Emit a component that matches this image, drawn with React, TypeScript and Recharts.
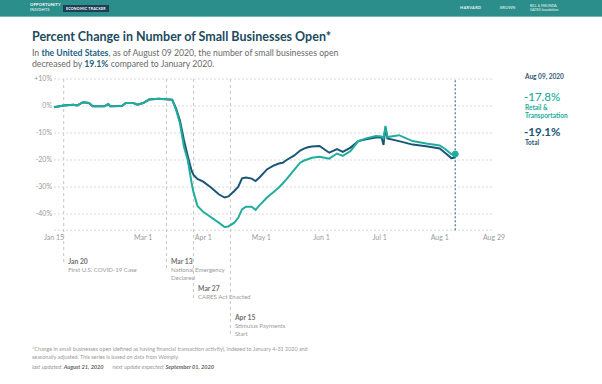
import React from "react";
import {
  ComposedChart,
  Line,
  XAxis,
  YAxis,
  CartesianGrid,
  ReferenceLine,
  ReferenceDot,
} from "recharts";

// ---------- data ----------
const dates = [
  "2020-01-15", "2020-01-20", "2020-01-25", "2020-01-27", "2020-01-30",
  "2020-02-02", "2020-02-04", "2020-02-08", "2020-02-10", "2020-02-12",
  "2020-02-13", "2020-02-19", "2020-02-21", "2020-02-25", "2020-02-27",
  "2020-03-01", "2020-03-04", "2020-03-09", "2020-03-14", "2020-03-16",
  "2020-03-18", "2020-03-20", "2020-03-22", "2020-03-24", "2020-03-26",
  "2020-03-27", "2020-03-29", "2020-04-01", "2020-04-05", "2020-04-09",
  "2020-04-12", "2020-04-14", "2020-04-17", "2020-04-19", "2020-04-21",
  "2020-04-23", "2020-04-26", "2020-04-28", "2020-04-30", "2020-05-04",
  "2020-05-07", "2020-05-10", "2020-05-12", "2020-05-14", "2020-05-18",
  "2020-05-21", "2020-05-23", "2020-05-25", "2020-05-27", "2020-05-31",
  "2020-06-05", "2020-06-09", "2020-06-12", "2020-06-16", "2020-06-20",
  "2020-06-24", "2020-06-29", "2020-07-02", "2020-07-03", "2020-07-04",
  "2020-07-05", "2020-07-11", "2020-07-18", "2020-07-25", "2020-08-01",
  "2020-08-04", "2020-08-07", "2020-08-09",
];
const totalChange = [
  -0.5, 0.2, 0.5, 0.2, 1.4,
  1.1, -0.1, 0, -0.1, 0.7,
  -0.1, 0, 1.1, 1.1, 0.5,
  1.1, 2.4, 2.7, 2.4, 2.3,
  -1, -5.5, -12.5, -18.5, -24,
  -25.5, -27, -28, -30.2, -32.7,
  -33.9, -33.5, -31.5, -30, -26.8,
  -26.5, -26.9, -27.8, -26.5, -23.4,
  -22.2, -21.3, -21, -20, -18.3,
  -16.5, -15.8, -15.3, -15, -14.8,
  -17.3, -16, -17, -15.4, -13,
  -12.3, -11.7, -11.6, -14.4, -8,
  -12, -13, -14.3, -14.9, -15.7,
  -17.5, -19.3, -19.1,
];
const retailChange = [
  -0.5, 0.2, 0.5, 0.2, 1.4,
  1.1, -0.1, 0, -0.1, 0.7,
  -0.1, 0, 1.1, 1.1, 0.5,
  1.1, 2.4, 2.7, 2.5, 2.3,
  -1.5, -6.5, -15, -20, -28.5,
  -32, -37, -39.2, -41.2, -43.2,
  -44.8, -44.6, -43.2, -41.5, -38.3,
  -37.3, -37.3, -38.5, -36.8, -33.8,
  -32, -30.2, -28.7, -27.1, -23.6,
  -21, -20.2, -19.7, -19.2, -18.8,
  -19.5, -17.6, -18.5, -16.7, -13,
  -12, -11.1, -11.3, -12, -7.4,
  -11.5, -10.8, -13, -13.9, -14.6,
  -16, -17.9, -17.8,
];

const xTickDates = [
  "2020-01-15", "2020-03-01", "2020-04-01", "2020-05-01",
  "2020-06-01", "2020-07-01", "2020-08-01", "2020-08-29",
];
const xTickLabels = ["Jan 15", "Mar 1", "Apr 1", "May 1", "Jun 1", "Jul 1", "Aug 1", "Aug 29"];
const yTicks = [10, 0, -10, -20, -30, -40];
const yTickLabels = ["+10%", "0%", "-10%", "-20%", "-30%", "-40%"];

const eventDates = ["2020-01-20", "2020-03-13", "2020-03-27", "2020-04-15"];
const eventTitles = ["Jan 20", "Mar 13", "Mar 27", "Apr 15"];
const eventText = [
  ["First U.S. COVID-19 Case"],
  ["National Emergency", "Declared"],
  ["CARES Act Enacted"],
  ["Stimulus Payments", "Start"],
];

const latestDate = "2020-08-09";
const latestLabel = "Aug 09, 2020";
const latestRetail = -17.8;
const latestTotal = -19.1;

// ---------- helpers ----------
const ts = (s: string) =>
  Date.UTC(+s.slice(0, 4), +s.slice(5, 7) - 1, +s.slice(8, 10));

const data = dates.map((d, i) => ({
  t: ts(d),
  total: totalChange[i],
  retail: retailChange[i],
}));

const xTicks = xTickDates.map(ts);
const xLabelOf = (v: number) => {
  const i = xTicks.indexOf(v);
  return i >= 0 ? xTickLabels[i] : "";
};
const yLabelOf = (v: number) => {
  const i = yTicks.indexOf(v);
  return i >= 0 ? yTickLabels[i] : "";
};

// ---------- style ----------
const FONT = "Lato, 'Open Sans', sans-serif";
const NAVY = "#1b5577";
const TEAL = "#20ad9b";
const HEADER = "#2b8e8a";
const TITLE = "#1c4a5e";

const annotFirstY = [260.7, 260.7, 288.3, 316.7];
const annotLineEnd = [262, 271, 300, 335];
const LH = 8.3;

const fmtPct = (v: number) => `${v.toFixed(1)}%`;

export default function App() {
  return (
    <div
      style={{
        position: "absolute",
        left: 0,
        top: 0,
        width: 602,
        height: 384,
        background: "#fff",
        fontFamily: FONT,
        overflow: "hidden",
      }}
    >
      <div style={{ position: "absolute", left: 0, top: 0 }}>
        <ComposedChart
          width={602}
          height={384}
          data={data}
          margin={{ top: 79, right: 108, bottom: 123.8, left: 14 }}
        >
          <CartesianGrid
            vertical={false}
            stroke="#d9d9d9"
            strokeDasharray="2 2"
          />
          <XAxis
            dataKey="t"
            type="number"
            scale="time"
            domain={[xTicks[0], xTicks[xTicks.length - 1]]}
            ticks={xTicks}
            tickFormatter={xLabelOf}
            axisLine={false}
            tickLine={false}
            tickSize={0}
            tickMargin={4.7}
            height={30}
            interval={0}
            tick={{ fontSize: 7, fill: "#9a9a9a", fontFamily: FONT }}
          />
          <YAxis
            type="number"
            domain={[-46, 10]}
            ticks={yTicks}
            tickFormatter={yLabelOf}
            axisLine={false}
            tickLine={false}
            tickSize={0}
            tickMargin={2}
            width={40}
            interval={0}
            tick={{ fontSize: 7, fill: "#9a9a9a", fontFamily: FONT }}
          />
          {eventDates.map((d, i) => (
            <ReferenceLine
              key={d}
              x={ts(d)}
              ifOverflow="visible"
              shape={(p: any) => {
                const top = Math.min(p.y1, p.y2);
                const x = p.x1;
                return (
                  <g>
                    <line
                      x1={x}
                      y1={top}
                      x2={x}
                      y2={annotLineEnd[i]}
                      stroke="#c6c6c6"
                      strokeWidth={1}
                      strokeDasharray="3 3"
                    />
                    <text
                      x={x + 4.5}
                      y={annotFirstY[i]}
                      dominantBaseline="central"
                      fontSize={6.8}
                      fontWeight={700}
                      fill="#707070"
                      fontFamily={FONT}
                    >
                      {eventTitles[i]}
                    </text>
                    {eventText[i].map((s, k) => (
                      <text
                        key={k}
                        x={x + 4.5}
                        y={annotFirstY[i] + LH * (k + 1)}
                        dominantBaseline="central"
                        fontSize={6.1}
                        fill="#9a9a9a"
                        fontFamily={FONT}
                      >
                        {s}
                      </text>
                    ))}
                  </g>
                );
              }}
            />
          ))}
          <ReferenceLine
            x={ts(latestDate)}
            stroke="#48758f"
            strokeWidth={1.2}
            strokeDasharray="2 2"
            ifOverflow="visible"
          />
          <Line
            dataKey="total"
            type="linear"
            stroke={NAVY}
            strokeWidth={2}
            dot={false}
            isAnimationActive={false}
          />
          <Line
            dataKey="retail"
            type="linear"
            stroke={TEAL}
            strokeWidth={2}
            dot={false}
            isAnimationActive={false}
          />
          <ReferenceDot
            x={ts(latestDate)}
            y={latestRetail}
            r={3}
            fill={TEAL}
            stroke={TEAL}
            ifOverflow="visible"
          />
        </ComposedChart>
      </div>

      {/* header bar */}
      <div
        style={{
          position: "absolute",
          left: 0,
          top: 0,
          width: 602,
          height: 16,
          background: HEADER,
          borderBottom: "1px solid #6fb9b4",
        }}
      >
        <div style={{ position: "absolute", left: 30, top: 3, color: "#fff", fontSize: 4, lineHeight: "4.5px", fontWeight: 700, letterSpacing: 0.2 }}>
          OPPORTUNITY
          <br />
          <span style={{ fontWeight: 400 }}>INSIGHTS</span>
        </div>
        <div style={{ position: "absolute", left: 63, top: 5, background: "#1d3f55", color: "#fff", fontSize: 3.6, padding: "1px 3px", fontWeight: 700, letterSpacing: 0.2 }}>
          ECONOMIC TRACKER
        </div>
        <div style={{ position: "absolute", left: 460, top: 5, color: "#e8f4f3", fontSize: 4, fontWeight: 700, letterSpacing: 0.3 }}>
          HARVARD
        </div>
        <div style={{ position: "absolute", left: 500, top: 5, color: "#e8f4f3", fontSize: 4 }}>
          BROWN
        </div>
        <div style={{ position: "absolute", left: 530, top: 4, color: "#e8f4f3", fontSize: 3.5, lineHeight: "4px" }}>
          BILL &amp; MELINDA
          <br />
          GATES foundation
        </div>
      </div>

      {/* title */}
      <div
        style={{
          position: "absolute",
          left: 32,
          top: 29,
          fontSize: 12.5,
          lineHeight: "16px",
          fontWeight: 700,
          color: TITLE,
          whiteSpace: "nowrap",
        }}
      >
        Percent Change in Number of Small Businesses Open*
      </div>
      <div
        style={{
          position: "absolute",
          left: 32,
          top: 47,
          fontSize: 8.7,
          lineHeight: "11px",
          color: "#6a6a6a",
          whiteSpace: "nowrap",
        }}
      >
        In <b style={{ color: "#1d5f82" }}>the United States</b>, as of August 09 2020, the number of small businesses open
        <br />
        decreased by <b style={{ color: "#1d5f82" }}>{fmtPct(-latestTotal)}</b> compared to January 2020.
      </div>

      {/* right panel */}
      <div style={{ position: "absolute", left: 525, top: 73, fontSize: 6.5, fontWeight: 700, color: "#2d5873", whiteSpace: "nowrap" }}>
        {latestLabel}
      </div>
      <div style={{ position: "absolute", left: 524, top: 90, fontSize: 11.5, color: TEAL, fontWeight: 500, whiteSpace: "nowrap" }}>
        {fmtPct(latestRetail)}
      </div>
      <div style={{ position: "absolute", left: 525, top: 104, fontSize: 6.5, lineHeight: "8.4px", fontWeight: 700, color: TEAL, whiteSpace: "nowrap" }}>
        Retail &amp;
        <br />
        Transportation
      </div>
      <div style={{ position: "absolute", left: 524, top: 125, fontSize: 11.5, color: NAVY, fontWeight: 700, whiteSpace: "nowrap" }}>
        {fmtPct(latestTotal)}
      </div>
      <div style={{ position: "absolute", left: 525, top: 139, fontSize: 6.5, fontWeight: 700, color: NAVY, whiteSpace: "nowrap" }}>
        Total
      </div>

      {/* footnote */}
      <div
        style={{
          position: "absolute",
          left: 32,
          top: 345,
          fontSize: 5.4,
          lineHeight: "8px",
          color: "#9a9a9a",
          whiteSpace: "nowrap",
        }}
      >
        *Change in small businesses open (defined as having financial transaction activity), indexed to January 4-31 2020 and
        <br />
        seasonally adjusted. This series is based on data from Womply.
      </div>
      <div
        style={{
          position: "absolute",
          left: 32,
          top: 363,
          fontSize: 5.6,
          lineHeight: "8px",
          color: "#9a9a9a",
          fontStyle: "italic",
          whiteSpace: "nowrap",
        }}
      >
        last updated: <b style={{ color: "#666" }}>August 21, 2020</b>
        <span style={{ marginLeft: 9 }}>next update expected: </span>
        <b style={{ color: "#666" }}>September 01, 2020</b>
      </div>
    </div>
  );
}
